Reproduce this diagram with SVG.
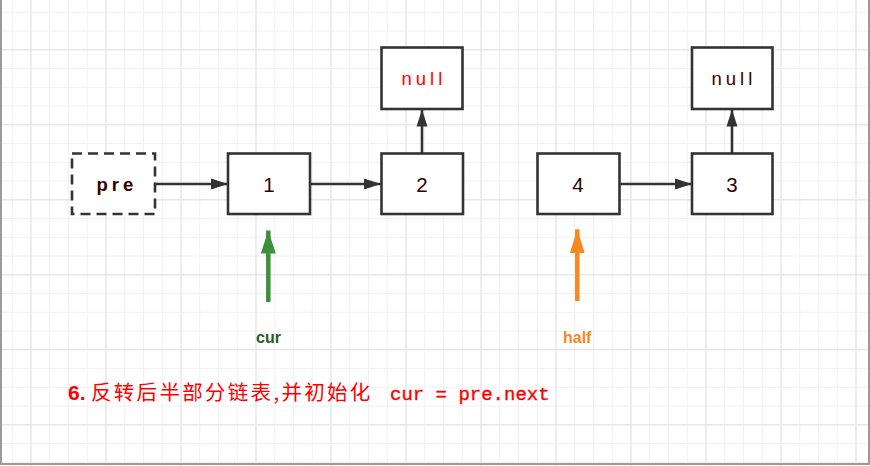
<svg xmlns="http://www.w3.org/2000/svg" width="870" height="466" viewBox="0 0 870 466">
  <defs>
    <pattern id="minor" patternUnits="userSpaceOnUse" x="11.75" y="11.8" width="18.75" height="18.75">
      <path d="M0.5,0 V18.75 M0,0.5 H18.75" fill="none" stroke="#f1f1f1" stroke-width="1"/>
    </pattern>
    <pattern id="major" patternUnits="userSpaceOnUse" x="30.5" y="49.3" width="75" height="75">
      <path d="M0.5,0 V75 M0,0.5 H75" fill="none" stroke="#e2e2e2" stroke-width="1"/>
    </pattern>
    <marker id="ah" markerUnits="userSpaceOnUse" markerWidth="17" markerHeight="12" refX="17" refY="6" orient="auto">
      <path d="M0,0.5 L17,6 L0,11.5 z" fill="#333333"/>
    </marker>
    <marker id="ahg" markerUnits="userSpaceOnUse" markerWidth="23" markerHeight="16" refX="23" refY="8" orient="auto">
      <path d="M0,0.5 L23,8 L0,15.5 z" fill="#3a913a"/>
    </marker>
    <marker id="aho" markerUnits="userSpaceOnUse" markerWidth="24" markerHeight="16" refX="24" refY="8" orient="auto">
      <path d="M0,0.5 L24,8 L0,15.5 z" fill="#f68a1e"/>
    </marker>
  </defs>
  <style>
    .box { fill: #ffffff; stroke: #333333; stroke-width: 2.6; }
    .dash { stroke-dasharray: 10 6; }
    .num { font-family: "Liberation Sans", Arial, sans-serif; font-size: 20.5px; fill: #330000; text-anchor: middle; }
    .sp { font-family: "Liberation Sans", Arial, sans-serif; font-size: 18.5px; letter-spacing: 4px; }
    .conn { stroke: #333333; stroke-width: 2.6; fill: none; marker-end: url(#ah); }
    .lbl { font-family: "Liberation Sans", Arial, sans-serif; font-size: 16px; font-weight: bold; }
  </style>

  <rect x="0" y="0" width="870" height="466" fill="#ffffff"/>
  <rect x="0" y="0" width="870" height="466" fill="url(#minor)"/>
  <rect x="0" y="0" width="870" height="466" fill="url(#major)"/>
  <path d="M1,0 V464 H869 V0" fill="none" stroke="#9a9a9a" stroke-width="2"/>

  <g id="connectors">
    <line class="conn" x1="155" y1="184" x2="228" y2="184"/>
    <line class="conn" x1="310" y1="184" x2="381" y2="184"/>
    <line class="conn" x1="620" y1="184" x2="692" y2="184"/>
    <line class="conn" x1="422" y1="153" x2="422" y2="109.5"/>
    <line class="conn" x1="732" y1="153" x2="732" y2="109.5"/>
    <line x1="268.3" y1="302" x2="268.3" y2="230.5" stroke="#3a913a" stroke-width="4.5" marker-end="url(#ahg)"/>
    <line x1="577.3" y1="301" x2="577.3" y2="229.3" stroke="#f68a1e" stroke-width="4.5" marker-end="url(#aho)"/>
  </g>

  <g id="node-pre">
    <rect class="box dash" x="72" y="153.5" width="83" height="60.5"/>
    <text class="sp" x="96.5" y="191" font-size="17" font-weight="bold" letter-spacing="3.5" fill="#330000">pre</text>
  </g>
  <g id="node-1">
    <rect class="box" x="228" y="153.5" width="82" height="60.5"/>
    <text class="num" x="269" y="191.5">1</text>
  </g>
  <g id="node-2">
    <rect class="box" x="381.5" y="153.5" width="81.5" height="60.5"/>
    <text class="num" x="422" y="191.5">2</text>
  </g>
  <g id="node-null-1">
    <rect class="box" x="381.5" y="47.5" width="81" height="61.5"/>
    <text class="sp" x="401.5" y="85" fill="#ff0000">null</text>
  </g>
  <g id="node-4">
    <rect class="box" x="537.5" y="153.5" width="82" height="60.5"/>
    <text class="num" x="578" y="191.5">4</text>
  </g>
  <g id="node-3">
    <rect class="box" x="692" y="153.5" width="80.5" height="60.5"/>
    <text class="num" x="732" y="191.5">3</text>
  </g>
  <g id="node-null-2">
    <rect class="box" x="692" y="47.5" width="80.5" height="61.5"/>
    <text class="sp" x="711.5" y="85" fill="#330000">null</text>
  </g>

  <g id="label-cur">
    <text class="lbl" x="256" y="342.5" fill="#1f5f1f">cur</text>
  </g>
  <g id="label-half">
    <text class="lbl" x="563" y="342.5" fill="#f5871f">half</text>
  </g>

  <g id="caption">
    <text y="399.5" fill="#ff0000"><tspan x="68" font-family="'Liberation Sans', Arial, sans-serif" font-weight="bold" font-size="21">6.</tspan><tspan x="91" font-family="'Noto Sans CJK SC', sans-serif" font-size="20.5" letter-spacing="2.3">反转后半部分链表,并初始化</tspan><tspan x="390" font-family="'Liberation Mono', 'Courier New', monospace" font-size="19" stroke="#ff0000" stroke-width="0.4">cur = pre.next</tspan></text>
  </g>
</svg>
